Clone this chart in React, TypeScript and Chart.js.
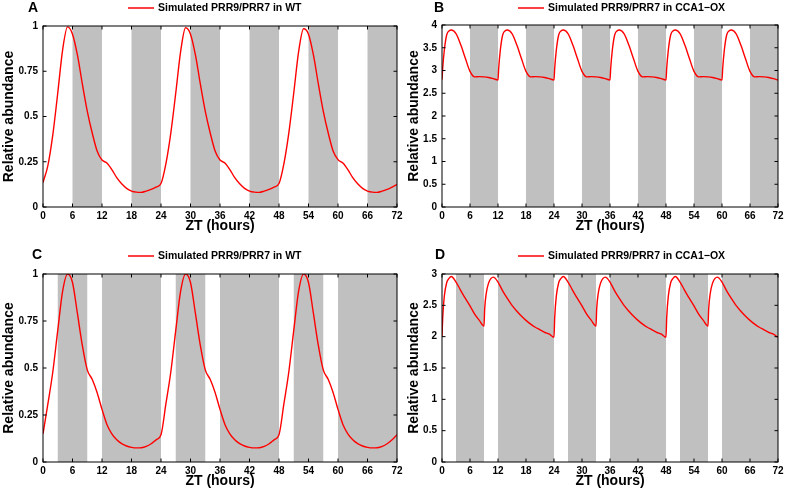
import React, { useEffect, useRef } from "react";
import { Chart, registerables } from "chart.js";

Chart.register(...registerables);

// ---------- data ----------
const HOURS = [
  0, 1, 2, 3, 4, 5, 6, 7, 8, 9, 10, 11, 12, 13, 14, 15, 16, 17, 18, 19, 20, 21, 22, 23,
  24, 25, 26, 27, 28, 29, 30, 31, 32, 33, 34, 35, 36, 37, 38, 39, 40, 41, 42, 43, 44, 45, 46, 47,
  48, 49, 50, 51, 52, 53, 54, 55, 56, 57, 58, 59, 60, 61, 62, 63, 64, 65, 66, 67, 68, 69, 70, 71,
  72,
];

const X_TICK_STEP = 6;

// Panel A: WT, 12:12
const WT_A_VALUES = [
  0.135, 0.23, 0.40, 0.63, 0.87, 0.995, 0.955, 0.84, 0.68, 0.53, 0.41, 0.31, 0.26, 0.243, 0.207, 0.162, 0.128, 0.103, 0.088, 0.082, 0.081, 0.088, 0.097, 0.11,
  0.13, 0.24, 0.41, 0.63, 0.86, 0.99, 0.955, 0.84, 0.68, 0.53, 0.41, 0.31, 0.26, 0.243, 0.207, 0.162, 0.128, 0.103, 0.088, 0.082, 0.081, 0.088, 0.097, 0.11,
  0.13, 0.24, 0.41, 0.63, 0.86, 0.985, 0.955, 0.84, 0.68, 0.53, 0.41, 0.31, 0.262, 0.243, 0.207, 0.162, 0.128, 0.103, 0.088, 0.082, 0.081, 0.088, 0.097, 0.11,
  0.125,
];

// Panel B: CCA1-OX, 12:12
const OX_B_TIMES = [
  0, 0.15, 0.5, 1, 1.5, 2, 3, 4, 5, 6, 7, 8, 9, 10, 11,
  12, 12.15, 12.5, 13, 13.5, 14, 15, 16, 17, 18, 19, 20, 21, 22, 23,
  24, 24.15, 24.5, 25, 25.5, 26, 27, 28, 29, 30, 31, 32, 33, 34, 35,
  36, 36.15, 36.5, 37, 37.5, 38, 39, 40, 41, 42, 43, 44, 45, 46, 47,
  48, 48.15, 48.5, 49, 49.5, 50, 51, 52, 53, 54, 55, 56, 57, 58, 59,
  60, 60.15, 60.5, 61, 61.5, 62, 63, 64, 65, 66, 67, 68, 69, 70, 71,
  72,
];
const OX_B_VALUES = [
  2.8, 3.05, 3.45, 3.78, 3.87, 3.89, 3.81, 3.57, 3.27, 2.98, 2.86, 2.865, 2.86, 2.845, 2.82,
  2.79, 3.05, 3.45, 3.78, 3.87, 3.89, 3.81, 3.57, 3.27, 2.98, 2.86, 2.865, 2.86, 2.845, 2.82,
  2.79, 3.05, 3.45, 3.78, 3.87, 3.89, 3.81, 3.57, 3.27, 2.98, 2.86, 2.865, 2.86, 2.845, 2.82,
  2.79, 3.05, 3.45, 3.78, 3.87, 3.89, 3.81, 3.57, 3.27, 2.98, 2.86, 2.865, 2.86, 2.845, 2.82,
  2.79, 3.05, 3.45, 3.78, 3.87, 3.89, 3.81, 3.57, 3.27, 2.98, 2.86, 2.865, 2.86, 2.845, 2.82,
  2.79, 3.05, 3.45, 3.78, 3.87, 3.89, 3.81, 3.57, 3.27, 2.98, 2.86, 2.865, 2.86, 2.845, 2.82,
  2.79,
];

// Panel C: WT, skeleton photoperiod
const WT_C_VALUES = [
  0.15, 0.31, 0.48, 0.70, 0.91, 1.0, 0.955, 0.79, 0.62, 0.49, 0.44, 0.37, 0.28, 0.20, 0.15, 0.118, 0.098, 0.085, 0.078, 0.075, 0.076, 0.083, 0.097, 0.118,
  0.145, 0.31, 0.48, 0.70, 0.91, 1.0, 0.955, 0.79, 0.62, 0.49, 0.44, 0.37, 0.28, 0.20, 0.15, 0.118, 0.098, 0.085, 0.078, 0.075, 0.076, 0.083, 0.097, 0.118,
  0.145, 0.31, 0.48, 0.70, 0.91, 1.0, 0.955, 0.79, 0.62, 0.49, 0.44, 0.37, 0.28, 0.20, 0.15, 0.118, 0.098, 0.085, 0.078, 0.075, 0.076, 0.083, 0.097, 0.118,
  0.145,
];

// Panel D: CCA1-OX, skeleton photoperiod
const OX_D_TIMES = [
  0, 0.15, 0.5, 1, 1.5, 2, 3, 4, 5, 6, 7, 8, 9, 9.15, 9.5, 10, 10.5, 11, 12, 13, 14, 15, 16, 17, 18, 19, 20, 21, 22, 23,
  24, 24.15, 24.5, 25, 25.5, 26, 27, 28, 29, 30, 31, 32, 33, 33.15, 33.5, 34, 34.5, 35, 36, 37, 38, 39, 40, 41, 42, 43, 44, 45, 46, 47,
  48, 48.15, 48.5, 49, 49.5, 50, 51, 52, 53, 54, 55, 56, 57, 57.15, 57.5, 58, 58.5, 59, 60, 61, 62, 63, 64, 65, 66, 67, 68, 69, 70, 71,
  72,
];
const OX_D_VALUES = [
  2.0, 2.3, 2.65, 2.86, 2.93, 2.96, 2.87, 2.74, 2.61, 2.49, 2.36, 2.26, 2.17, 2.45, 2.7, 2.86, 2.93, 2.95, 2.87, 2.73, 2.61, 2.5, 2.41, 2.33, 2.26, 2.2, 2.15, 2.11, 2.07, 2.04,
  1.99, 2.3, 2.65, 2.86, 2.93, 2.96, 2.87, 2.74, 2.61, 2.49, 2.36, 2.26, 2.17, 2.45, 2.7, 2.86, 2.93, 2.95, 2.87, 2.73, 2.61, 2.5, 2.41, 2.33, 2.26, 2.2, 2.15, 2.11, 2.07, 2.04,
  1.99, 2.3, 2.65, 2.86, 2.93, 2.96, 2.87, 2.74, 2.61, 2.49, 2.36, 2.26, 2.17, 2.45, 2.7, 2.86, 2.93, 2.95, 2.87, 2.73, 2.61, 2.5, 2.41, 2.33, 2.26, 2.2, 2.15, 2.11, 2.07, 2.04,
  1.99,
];

const DARK_1212 = [[6, 12], [18, 24], [30, 36], [42, 48], [54, 60], [66, 72]];
const DARK_SKELETON = [[3, 9], [12, 24], [27, 33], [36, 48], [51, 57], [60, 72]];

const LEGEND_WT = "Simulated PRR9/PRR7 in WT";
const LEGEND_OX = "Simulated PRR9/PRR7 in CCA1\u2212OX";
const X_TITLE = "ZT (hours)";
const Y_TITLE = "Relative abundance";

// ---------- layout ----------
const FONT = "'Liberation Sans', Arial, Helvetica, sans-serif";

type PanelCfg = {
  letter: string;
  legend: string;
  times: number[];
  values: number[];
  dark: number[][];
  yMax: number;
  yStep: number;
  left: number;
  top: number;
  width: number;
  height: number;
  padTop: number;
  padRight: number;
  yAxisW: number;
  xAxisH: number;
  yTitlePad: number;
  xTitlePad: number;
  letterX: number;
  letterY: number;
  legendX: number;
  legendY: number;
};

const PANELS: PanelCfg[] = [
  {
    letter: "A", legend: LEGEND_WT, times: HOURS, values: WT_A_VALUES, dark: DARK_1212, yMax: 1, yStep: 0.25,
    left: 0, top: 0, width: 410, height: 247, padTop: 26, padRight: 13, yAxisW: 43, xAxisH: 40,
    yTitlePad: 0.8, xTitlePad: 12, letterX: 28, letterY: 8, legendX: 128, legendY: 8,
  },
  {
    letter: "B", legend: LEGEND_OX, times: OX_B_TIMES, values: OX_B_VALUES, dark: DARK_1212, yMax: 4, yStep: 0.5,
    left: 404, top: 0, width: 383, height: 247, padTop: 25, padRight: 9, yAxisW: 38, xAxisH: 40,
    yTitlePad: 1.6, xTitlePad: 12, letterX: 30, letterY: 8, legendX: 114, legendY: 8,
  },
  {
    letter: "C", legend: LEGEND_WT, times: HOURS, values: WT_C_VALUES, dark: DARK_SKELETON, yMax: 1, yStep: 0.25,
    left: 0, top: 247, width: 410, height: 248, padTop: 27, padRight: 13, yAxisW: 43, xAxisH: 33,
    yTitlePad: 0.8, xTitlePad: 5, letterX: 32, letterY: 8, legendX: 128, legendY: 9,
  },
  {
    letter: "D", legend: LEGEND_OX, times: OX_D_TIMES, values: OX_D_VALUES, dark: DARK_SKELETON, yMax: 3, yStep: 0.5,
    left: 404, top: 247, width: 383, height: 248, padTop: 27, padRight: 9, yAxisW: 38, xAxisH: 33,
    yTitlePad: 1.6, xTitlePad: 5, letterX: 31, letterY: 8, legendX: 114, legendY: 9,
  },
];

function makeDecor(p: PanelCfg) {
  return {
    id: "panelDecor" + p.letter,
    beforeDatasetsDraw(chart: any) {
      const { ctx, chartArea, scales } = chart;
      const { top, bottom } = chartArea;
      const x = scales.x;
      ctx.save();
      ctx.fillStyle = "#c0c0c0";
      for (const [a, b] of p.dark) {
        const x1 = x.getPixelForValue(a);
        const x2 = x.getPixelForValue(b);
        ctx.fillRect(x1, top, x2 - x1, bottom - top);
      }
      ctx.restore();
    },
    afterDraw(chart: any) {
      const { ctx, chartArea, scales } = chart;
      const { left, right, top, bottom } = chartArea;
      ctx.save();
      ctx.strokeStyle = "#000";
      ctx.lineWidth = 1;
      ctx.strokeRect(left, top, right - left, bottom - top);
      const tl = 3.5;
      ctx.beginPath();
      for (const t of scales.x.ticks) {
        const px = scales.x.getPixelForValue(t.value);
        ctx.moveTo(px, bottom);
        ctx.lineTo(px, bottom - tl);
        ctx.moveTo(px, top);
        ctx.lineTo(px, top + tl);
      }
      for (const t of scales.y.ticks) {
        const py = scales.y.getPixelForValue(t.value);
        ctx.moveTo(left, py);
        ctx.lineTo(left + tl, py);
        ctx.moveTo(right, py);
        ctx.lineTo(right - tl, py);
      }
      ctx.stroke();

      // panel letter
      ctx.fillStyle = "#000";
      ctx.font = `bold 14px ${FONT}`;
      ctx.textBaseline = "middle";
      ctx.textAlign = "left";
      ctx.fillText(p.letter, p.letterX, p.letterY);

      // legend
      ctx.strokeStyle = "#f00";
      ctx.lineWidth = 1.5;
      ctx.beginPath();
      ctx.moveTo(p.legendX, p.legendY);
      ctx.lineTo(p.legendX + 26, p.legendY);
      ctx.stroke();
      ctx.font = `bold 10.5px ${FONT}`;
      ctx.fillText(p.legend, p.legendX + 30, p.legendY + 0.5);
      ctx.restore();
    },
  };
}

const plainLabel = (v: any) => String(Number(v));

function Panel({ p }: { p: PanelCfg }) {
  const ref = useRef<HTMLCanvasElement | null>(null);
  useEffect(() => {
    if (!ref.current) return;
    const chart = new Chart(ref.current, {
      type: "line",
      data: {
        datasets: [
          {
            label: p.legend,
            data: p.times.map((t, i) => ({ x: t, y: p.values[i] })),
            borderColor: "#f00",
            borderWidth: 1.4,
            pointRadius: 0,
            fill: false,
            cubicInterpolationMode: "monotone",
          },
        ],
      },
      options: {
        responsive: false,
        animation: false,
        events: [],
        layout: { padding: { top: p.padTop, right: p.padRight, left: 0, bottom: 0 } },
        plugins: { legend: { display: false }, tooltip: { enabled: false }, title: { display: false } },
        scales: {
          x: {
            type: "linear",
            min: 0,
            max: 72,
            grid: { display: false, drawTicks: false },
            border: { display: false },
            ticks: {
              stepSize: X_TICK_STEP,
              padding: 3,
              color: "#000",
              font: { family: FONT, size: 10, weight: "bold" },
              maxRotation: 0,
              autoSkip: false,
              callback: plainLabel,
            },
            title: {
              display: true,
              text: X_TITLE,
              color: "#000",
              font: { family: FONT, size: 14, weight: "bold", lineHeight: 1.2 },
              padding: { top: 0, bottom: p.xTitlePad },
            },
            afterFit: (s: any) => {
              s.height = p.xAxisH;
              s.paddingLeft = 0;
              s.paddingRight = 0;
            },
          },
          y: {
            type: "linear",
            min: 0,
            max: p.yMax,
            grid: { display: false, drawTicks: false },
            border: { display: false },
            ticks: {
              stepSize: p.yStep,
              padding: 5,
              color: "#000",
              font: { family: FONT, size: 10, weight: "bold" },
              autoSkip: false,
              callback: plainLabel,
            },
            title: {
              display: true,
              text: Y_TITLE,
              color: "#000",
              font: { family: FONT, size: 14, weight: "bold", lineHeight: 1.2 },
              padding: { top: p.yTitlePad, bottom: 0 },
            },
            afterFit: (s: any) => {
              s.width = p.yAxisW;
              s.paddingTop = 0;
              s.paddingBottom = 0;
            },
          },
        },
      },
      plugins: [makeDecor(p)],
    } as any);
    return () => chart.destroy();
  }, [p]);
  return (
    <canvas
      ref={ref}
      width={p.width}
      height={p.height}
      style={{ position: "absolute", left: p.left, top: p.top, width: p.width, height: p.height }}
    />
  );
}

export default function App() {
  return (
    <div style={{ position: "fixed", left: 0, top: 0, width: 787, height: 495, background: "#fff", overflow: "hidden" }}>
      {PANELS.map((p) => (
        <Panel key={p.letter} p={p} />
      ))}
    </div>
  );
}
